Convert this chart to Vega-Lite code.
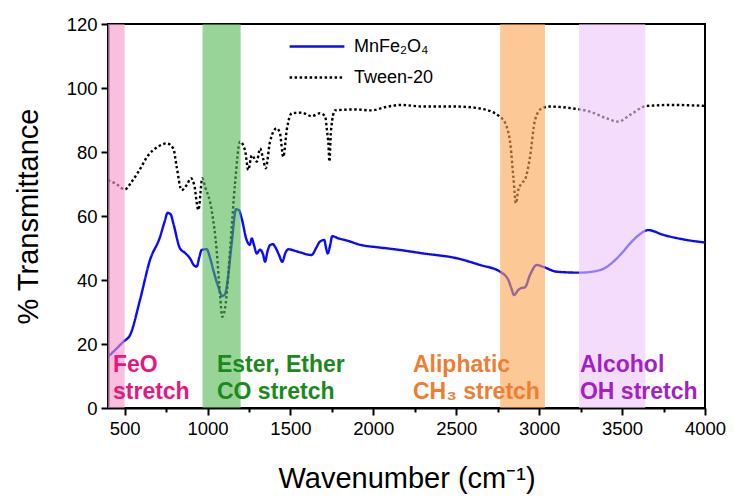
{
  "$schema": "https://vega.github.io/schema/vega-lite/v6.json",
  "width": 597,
  "height": 384,
  "autosize": "none",
  "padding": {"left": 108, "top": 24, "right": 28, "bottom": 92},
  "config": {
    "font": "Liberation Sans",
    "view": {"stroke": "#000000", "strokeWidth": 2},
    "axis": {
      "domainColor": "#000000", "domainWidth": 2, "tickColor": "#000000", "tickWidth": 2,
      "labelFont": "Liberation Sans", "labelFontSize": 18.5, "labelColor": "#000000",
      "titleFont": "Liberation Sans", "titleFontSize": 29, "titleFontWeight": "normal", "titleColor": "#000000",
      "grid": false
    },
    "legend": {"labelFont": "Liberation Sans", "labelFontSize": 18, "labelColor": "#000000"}
  },
  "datasets": {
    "spectra": [
      {"s":"MnFe₂O₄","x":400,"y":16},{"s":"MnFe₂O₄","x":450,"y":18.5},{"s":"MnFe₂O₄","x":492,"y":20.7},{"s":"MnFe₂O₄","x":533,"y":22.8},{"s":"MnFe₂O₄","x":593,"y":33.8},{"s":"MnFe₂O₄","x":653,"y":46.2},{"s":"MnFe₂O₄","x":714,"y":53.5},{"s":"MnFe₂O₄","x":740,"y":58},{"s":"MnFe₂O₄","x":760,"y":61},{"s":"MnFe₂O₄","x":778,"y":60.5},{"s":"MnFe₂O₄","x":794,"y":57.7},{"s":"MnFe₂O₄","x":834,"y":49.9},{"s":"MnFe₂O₄","x":864,"y":48.5},{"s":"MnFe₂O₄","x":894,"y":46.8},{"s":"MnFe₂O₄","x":920,"y":44.5},{"s":"MnFe₂O₄","x":935,"y":44.2},{"s":"MnFe₂O₄","x":950,"y":47},{"s":"MnFe₂O₄","x":965,"y":49.4},{"s":"MnFe₂O₄","x":995,"y":49.6},{"s":"MnFe₂O₄","x":1015,"y":47},{"s":"MnFe₂O₄","x":1035,"y":43.1},{"s":"MnFe₂O₄","x":1065,"y":37.9},{"s":"MnFe₂O₄","x":1089,"y":35},{"s":"MnFe₂O₄","x":1105,"y":35.5},{"s":"MnFe₂O₄","x":1116,"y":37.9},{"s":"MnFe₂O₄","x":1146,"y":51.5},{"s":"MnFe₂O₄","x":1172,"y":62.1},{"s":"MnFe₂O₄","x":1190,"y":61.8},{"s":"MnFe₂O₄","x":1206,"y":59.3},{"s":"MnFe₂O₄","x":1236,"y":52.5},{"s":"MnFe₂O₄","x":1255,"y":51},{"s":"MnFe₂O₄","x":1267,"y":53},{"s":"MnFe₂O₄","x":1280,"y":51},{"s":"MnFe₂O₄","x":1297,"y":48.3},{"s":"MnFe₂O₄","x":1317,"y":49.5},{"s":"MnFe₂O₄","x":1335,"y":48},{"s":"MnFe₂O₄","x":1347,"y":45.7},{"s":"MnFe₂O₄","x":1362,"y":49},{"s":"MnFe₂O₄","x":1377,"y":50.9},{"s":"MnFe₂O₄","x":1395,"y":51.2},{"s":"MnFe₂O₄","x":1407,"y":50.4},{"s":"MnFe₂O₄","x":1430,"y":48},{"s":"MnFe₂O₄","x":1451,"y":45.7},{"s":"MnFe₂O₄","x":1470,"y":48.5},{"s":"MnFe₂O₄","x":1487,"y":49.6},{"s":"MnFe₂O₄","x":1548,"y":48.8},{"s":"MnFe₂O₄","x":1628,"y":47.8},{"s":"MnFe₂O₄","x":1655,"y":50},{"s":"MnFe₂O₄","x":1678,"y":52},{"s":"MnFe₂O₄","x":1704,"y":52.5},{"s":"MnFe₂O₄","x":1715,"y":50},{"s":"MnFe₂O₄","x":1725,"y":48.3},{"s":"MnFe₂O₄","x":1740,"y":51},{"s":"MnFe₂O₄","x":1752,"y":53.7},{"s":"MnFe₂O₄","x":1790,"y":53},{"s":"MnFe₂O₄","x":1829,"y":52.5},{"s":"MnFe₂O₄","x":1930,"y":50.9},{"s":"MnFe₂O₄","x":2030,"y":50.2},{"s":"MnFe₂O₄","x":2130,"y":49.6},{"s":"MnFe₂O₄","x":2301,"y":48.3},{"s":"MnFe₂O₄","x":2503,"y":46.8},{"s":"MnFe₂O₄","x":2643,"y":44.7},{"s":"MnFe₂O₄","x":2764,"y":42.6},{"s":"MnFe₂O₄","x":2814,"y":40},{"s":"MnFe₂O₄","x":2835,"y":37},{"s":"MnFe₂O₄","x":2848,"y":35.3},{"s":"MnFe₂O₄","x":2862,"y":36},{"s":"MnFe₂O₄","x":2874,"y":36.9},{"s":"MnFe₂O₄","x":2895,"y":37.5},{"s":"MnFe₂O₄","x":2914,"y":37.7},{"s":"MnFe₂O₄","x":2945,"y":41.6},{"s":"MnFe₂O₄","x":2985,"y":44.7},{"s":"MnFe₂O₄","x":3030,"y":44},{"s":"MnFe₂O₄","x":3105,"y":42.6},{"s":"MnFe₂O₄","x":3246,"y":42.3},{"s":"MnFe₂O₄","x":3367,"y":43.1},{"s":"MnFe₂O₄","x":3447,"y":45.7},{"s":"MnFe₂O₄","x":3500,"y":48.5},{"s":"MnFe₂O₄","x":3548,"y":51.4},{"s":"MnFe₂O₄","x":3600,"y":54},{"s":"MnFe₂O₄","x":3658,"y":55.6},{"s":"MnFe₂O₄","x":3749,"y":54.1},{"s":"MnFe₂O₄","x":3869,"y":52.7},{"s":"MnFe₂O₄","x":4000,"y":51.7},
      {"s":"Tween-20","x":400,"y":71.2},{"s":"Tween-20","x":450,"y":70},{"s":"Tween-20","x":502,"y":68.3},{"s":"Tween-20","x":540,"y":70.5},{"s":"Tween-20","x":583,"y":73.8},{"s":"Tween-20","x":643,"y":79},{"s":"Tween-20","x":703,"y":81.7},{"s":"Tween-20","x":754,"y":82.7},{"s":"Tween-20","x":794,"y":81.1},{"s":"Tween-20","x":814,"y":75.4},{"s":"Tween-20","x":844,"y":68.1},{"s":"Tween-20","x":875,"y":69.7},{"s":"Tween-20","x":900,"y":71.8},{"s":"Tween-20","x":920,"y":69.7},{"s":"Tween-20","x":945,"y":61.9},{"s":"Tween-20","x":969,"y":71.8},{"s":"Tween-20","x":985,"y":69.2},{"s":"Tween-20","x":1025,"y":61.9},{"s":"Tween-20","x":1055,"y":49.4},{"s":"Tween-20","x":1075,"y":35.8},{"s":"Tween-20","x":1089,"y":28.5},{"s":"Tween-20","x":1110,"y":32.7},{"s":"Tween-20","x":1136,"y":49.4},{"s":"Tween-20","x":1166,"y":70.2},{"s":"Tween-20","x":1196,"y":83.2},{"s":"Tween-20","x":1226,"y":80.6},{"s":"Tween-20","x":1246,"y":74.4},{"s":"Tween-20","x":1267,"y":79},{"s":"Tween-20","x":1297,"y":77},{"s":"Tween-20","x":1317,"y":81.1},{"s":"Tween-20","x":1335,"y":78},{"s":"Tween-20","x":1351,"y":74.9},{"s":"Tween-20","x":1377,"y":83.2},{"s":"Tween-20","x":1417,"y":87.4},{"s":"Tween-20","x":1437,"y":85.8},{"s":"Tween-20","x":1457,"y":78.5},{"s":"Tween-20","x":1478,"y":86.9},{"s":"Tween-20","x":1508,"y":92.1},{"s":"Tween-20","x":1568,"y":92.3},{"s":"Tween-20","x":1628,"y":91.2},{"s":"Tween-20","x":1678,"y":92.1},{"s":"Tween-20","x":1709,"y":91.2},{"s":"Tween-20","x":1722,"y":86},{"s":"Tween-20","x":1729,"y":82.7},{"s":"Tween-20","x":1735,"y":77},{"s":"Tween-20","x":1745,"y":86.9},{"s":"Tween-20","x":1769,"y":93},{"s":"Tween-20","x":1889,"y":93.3},{"s":"Tween-20","x":1990,"y":93},{"s":"Tween-20","x":2070,"y":94},{"s":"Tween-20","x":2171,"y":94.7},{"s":"Tween-20","x":2301,"y":94.2},{"s":"Tween-20","x":2503,"y":94.2},{"s":"Tween-20","x":2643,"y":93.6},{"s":"Tween-20","x":2764,"y":91},{"s":"Tween-20","x":2804,"y":87.9},{"s":"Tween-20","x":2828,"y":81.7},{"s":"Tween-20","x":2844,"y":72.3},{"s":"Tween-20","x":2860,"y":64},{"s":"Tween-20","x":2874,"y":68.1},{"s":"Tween-20","x":2900,"y":70.5},{"s":"Tween-20","x":2914,"y":71.3},{"s":"Tween-20","x":2945,"y":78.5},{"s":"Tween-20","x":2975,"y":90},{"s":"Tween-20","x":3015,"y":93.6},{"s":"Tween-20","x":3065,"y":94.2},{"s":"Tween-20","x":3206,"y":93.6},{"s":"Tween-20","x":3307,"y":92.6},{"s":"Tween-20","x":3407,"y":90.5},{"s":"Tween-20","x":3477,"y":89.5},{"s":"Tween-20","x":3548,"y":91.6},{"s":"Tween-20","x":3648,"y":94.4},{"s":"Tween-20","x":3809,"y":94.7},{"s":"Tween-20","x":4000,"y":94.4}
    ],
    "bands": [
      {"g":"FeO","lo":400,"hi":500},
      {"g":"Ester","lo":970,"hi":1200},
      {"g":"Aliphatic","lo":2765,"hi":3035},
      {"g":"Alcohol","lo":3240,"hi":3640}
    ],
    "labels": [
      {"g":"FeO","x":430,"y":11.2,"t":["FeO","stretch"]},
      {"g":"Ester","x":1057,"y":11.2,"t":["Ester, Ether","CO stretch"]},
      {"g":"Aliphatic","x":2239,"y":11.2,"t":["Aliphatic","CH₃ stretch"]},
      {"g":"Alcohol","x":3246,"y":11.2,"t":["Alcohol","OH stretch"]}
    ]
  },
  "layer": [
    {
      "data": {"name": "spectra"},
      "mark": {"type": "line", "strokeWidth": 2.4, "interpolate": "monotone", "clip": true},
      "encoding": {
        "x": {
          "field": "x", "type": "quantitative",
          "scale": {"domain": [400, 4000], "nice": false, "zero": false},
          "axis": {
            "title": "Wavenumber (cm⁻¹)",
            "values": [500,750,1000,1250,1500,1750,2000,2250,2500,2750,3000,3250,3500,3750,4000],
            "labelExpr": "datum.value % 500 == 0 ? datum.label : ''",
            "format": "d",
            "tickSize": {"condition": {"test": "datum.value % 500 == 0", "value": 7}, "value": 4},
            "labelPadding": 4,
            "titlePadding": 27,
            "labelFlush": false
          }
        },
        "y": {
          "field": "y", "type": "quantitative",
          "scale": {"domain": [0, 120], "nice": false},
          "axis": {
            "title": "% Transmittance",
            "values": [0,10,20,30,40,50,60,70,80,90,100,110,120],
            "labelExpr": "datum.value % 20 == 0 ? datum.label : ''",
            "tickSize": {"condition": {"test": "datum.value % 20 == 0", "value": 7}, "value": 4},
            "labelPadding": 4,
            "titlePadding": 23,
            "labelFlush": false
          }
        },
        "stroke": {
          "field": "s", "type": "nominal",
          "scale": {"domain": ["MnFe₂O₄", "Tween-20"], "range": ["#0a0aff", "#000000"]},
          "legend": {
            "title": null, "orient": "none", "legendX": 180, "legendY": 7,
            "padding": 0, "symbolSize": 3000, "symbolStrokeWidth": 2.5,
            "labelOffset": 8, "clipHeight": 31, "rowPadding": 0
          }
        },
        "strokeDash": {
          "field": "s", "type": "nominal",
          "scale": {"domain": ["MnFe₂O₄", "Tween-20"], "range": [[1, 0], [2.5, 2.5]]},
          "legend": {
            "title": null, "orient": "none", "legendX": 180, "legendY": 7,
            "padding": 0, "symbolSize": 3000, "symbolStrokeWidth": 2.5,
            "labelOffset": 8, "clipHeight": 31, "rowPadding": 0
          }
        }
      }
    },
    {
      "data": {"name": "bands"},
      "mark": {"type": "rect", "opacity": 0.6},
      "encoding": {
        "x": {"field": "lo", "type": "quantitative"},
        "x2": {"field": "hi"},
        "fill": {
          "field": "g", "type": "nominal",
          "scale": {"domain": ["FeO", "Ester", "Aliphatic", "Alcohol"], "range": ["#f394ca", "#53b753", "#faa34e", "#edc5fa"]},
          "legend": null
        }
      }
    },
    {
      "data": {"name": "labels"},
      "mark": {"type": "text", "align": "left", "baseline": "alphabetic", "fontSize": 23, "fontWeight": "bold", "lineHeight": 27, "font": "Liberation Sans"},
      "encoding": {
        "x": {"field": "x", "type": "quantitative"},
        "y": {"field": "y", "type": "quantitative"},
        "text": {"field": "t"},
        "color": {
          "field": "g", "type": "nominal",
          "scale": {"domain": ["FeO", "Ester", "Aliphatic", "Alcohol"], "range": ["#e8177e", "#1b8a1b", "#ef7d34", "#a51fc6"]},
          "legend": null
        }
      }
    }
  ]
}
